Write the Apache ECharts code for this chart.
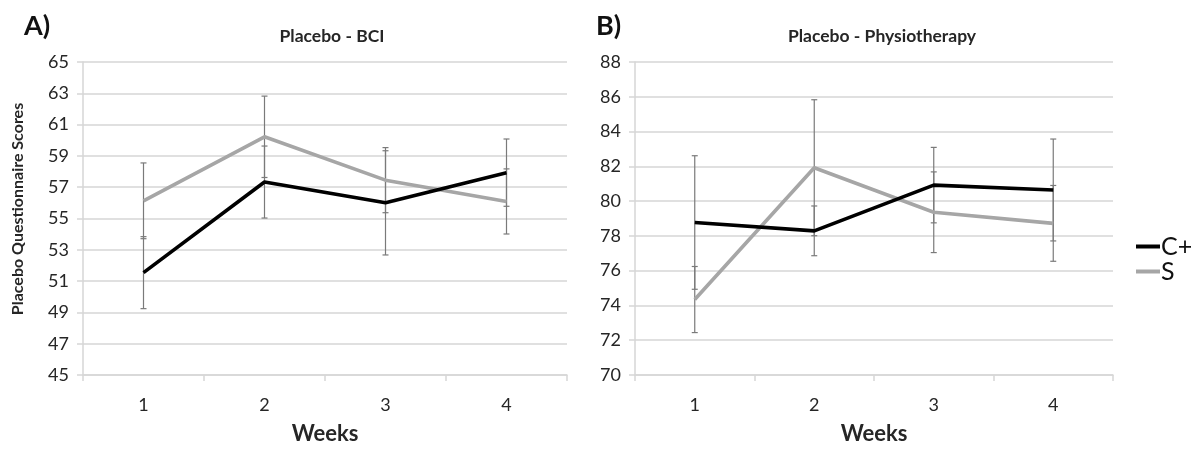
<!DOCTYPE html>
<html>
<head>
<meta charset="utf-8">
<script src="https://cdn.jsdelivr.net/npm/echarts@6/dist/echarts.min.js"></script>
<style>
html,body{margin:0;padding:0;background:#fff;}
#chart{width:1202px;height:450px;}
</style>
</head>
<body>
<div id="chart"></div>
<script>
// ---- data ----
const weeks = ['1', '2', '3', '4'];
const bciCplus = [51.54, 57.33, 56.0, 57.93];
const bciCplusErr = [2.3, 2.3, 3.33, 2.15];
const bciS = [56.13, 60.22, 57.45, 56.09];
const bciSErr = [2.42, 2.6, 2.08, 2.08];
const phyCplus = [78.77, 78.29, 80.92, 80.64];
const phyCplusErr = [3.84, 1.43, 2.17, 2.93];
const phyS = [74.34, 81.92, 79.36, 78.72];
const phySErr = [1.9, 3.91, 2.32, 2.18];
const bciTicks = {min: 45, max: 65, interval: 2};
const phyTicks = {min: 70, max: 88, interval: 2};

const FONT = 'Lato';
const TXT = '#262626';
const GRID = '#d6d6d6';

function errData(mean, err) {
  return mean.map((m, i) => [i, m - err[i], m + err[i]]);
}
function errSeries(mean, err, idx) {
  return {
    type: 'custom', xAxisIndex: idx, yAxisIndex: idx, z: 2, silent: true,
    data: errData(mean, err),
    renderItem: function (params, api) {
      const x = api.value(0);
      const top = api.coord([x, api.value(2)]);
      const bot = api.coord([x, api.value(1)]);
      const st = {stroke: '#7a7a7a', lineWidth: 1.2};
      const cw = 3;
      return {
        type: 'group',
        children: [
          {type: 'line', shape: {x1: top[0], y1: top[1], x2: bot[0], y2: bot[1]}, style: st},
          {type: 'line', shape: {x1: top[0] - cw, y1: top[1], x2: top[0] + cw, y2: top[1]}, style: st},
          {type: 'line', shape: {x1: bot[0] - cw, y1: bot[1], x2: bot[0] + cw, y2: bot[1]}, style: st}
        ]
      };
    }
  };
}
function lineSeries(name, data, color, idx, z) {
  return {
    name: name, type: 'line', xAxisIndex: idx, yAxisIndex: idx, data: data,
    symbol: 'none', z: z, lineStyle: {color: color, width: 3.6}, itemStyle: {color: color}
  };
}
function xAxis(idx) {
  return {
    type: 'category', gridIndex: idx, data: weeks, boundaryGap: true,
    name: 'Weeks', nameLocation: 'middle', nameGap: 59,
    nameTextStyle: {fontFamily: FONT, fontWeight: 'bold', fontSize: 22, color: TXT, verticalAlign: 'middle'},
    axisLine: {lineStyle: {color: GRID, width: 1.5}},
    axisTick: {show: true, length: 6, lineStyle: {color: GRID, width: 1.5}},
    axisLabel: {fontFamily: FONT, fontSize: 18, color: TXT, margin: 21},
    splitLine: {show: false}
  };
}
function yAxis(idx, t) {
  return {
    type: 'value', gridIndex: idx, min: t.min, max: t.max, interval: t.interval,
    axisLine: {show: true, lineStyle: {color: GRID, width: 1.5}},
    axisTick: {show: true, length: 6, lineStyle: {color: GRID, width: 1.5}},
    axisLabel: {fontFamily: FONT, fontSize: 18, color: TXT, margin: 14},
    splitLine: {show: true, lineStyle: {color: GRID, width: 1.5}}
  };
}

const chart = echarts.init(document.getElementById('chart'), null, {renderer: 'canvas'});

chart.setOption({
  animation: false,
  backgroundColor: '#ffffff',
  title: [
    {text: 'A)', left: 19, top: 8, textStyle: {fontFamily: FONT, fontWeight: 'bold', fontSize: 27, color: '#111'}},
    {text: 'B)', left: 591, top: 8, textStyle: {fontFamily: FONT, fontWeight: 'bold', fontSize: 27, color: '#111'}},
    {text: 'Placebo - BCI', left: 327, textAlign: 'center', top: 22, textStyle: {fontFamily: FONT, fontWeight: 'bold', fontSize: 17.5, color: TXT}},
    {text: 'Placebo - Physiotherapy', left: 877, textAlign: 'center', top: 22, textStyle: {fontFamily: FONT, fontWeight: 'bold', fontSize: 17.5, color: TXT}}
  ],
  graphic: [
    {type: 'text', x: 18, y: 209, rotation: Math.PI / 2,
     style: {text: 'Placebo Questionnaire Scores', fontFamily: FONT, fontWeight: 'bold', fontSize: 16,
             fill: TXT, align: 'center', verticalAlign: 'middle'}}
  ],
  legend: {
    data: ['C+', 'S'], orient: 'vertical', left: 1131, top: 229, itemGap: 0,
    icon: 'rect', itemWidth: 24, itemHeight: 4,
    textStyle: {fontFamily: FONT, fontSize: 25, color: '#111', lineHeight: 25, padding: [0, 0, 0, -4]}
  },
  grid: [
    {left: 83, top: 62, width: 484, height: 318},
    {left: 635, top: 62, width: 478, height: 318}
  ],
  xAxis: [xAxis(0), xAxis(1)],
  yAxis: [yAxis(0, bciTicks), yAxis(1, phyTicks)],
  series: [
    errSeries(bciS, bciSErr, 0),
    errSeries(bciCplus, bciCplusErr, 0),
    errSeries(phyS, phySErr, 1),
    errSeries(phyCplus, phyCplusErr, 1),
    lineSeries('S', bciS, '#a6a6a6', 0, 3),
    lineSeries('C+', bciCplus, '#000000', 0, 4),
    lineSeries('S', phyS, '#a6a6a6', 1, 3),
    lineSeries('C+', phyCplus, '#000000', 1, 4)
  ]
});
</script>
</body>
</html>
